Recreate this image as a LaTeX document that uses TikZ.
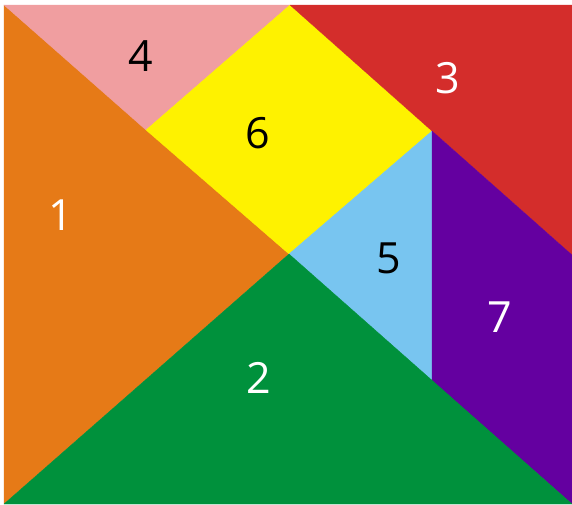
\documentclass[tikz,border=0pt]{standalone}
\usepackage{fontspec}
\setmainfont{Open Sans}
\definecolor{cOrange}{HTML}{E67A17}
\definecolor{cPink}{HTML}{F09EA0}
\definecolor{cYellow}{HTML}{FEF200}
\definecolor{cRed}{HTML}{D42D2B}
\definecolor{cBlue}{HTML}{78C5F0}
\definecolor{cPurple}{HTML}{6400A0}
\definecolor{cGreen}{HTML}{00913C}
\begin{document}
\begin{tikzpicture}[x=1pt,y=-1pt,
  lbl/.style={inner sep=0pt,font=\fontsize{43}{43}\selectfont},
  piece/.style={line width=0.3pt,line join=round}]
\useasboundingbox (0,0) rectangle (572,504);
\fill[white] (0,0) rectangle (572,504);
\coordinate (TL) at (4,5);
\coordinate (TM) at (290,5);
\coordinate (TR) at (572,5);
\coordinate (RM) at (572,255);
\coordinate (BR) at (572,504);
\coordinate (BL) at (4,504);
\coordinate (C) at (289,254);
\coordinate (P) at (146,130);
\coordinate (Q) at (432,131);
\coordinate (R) at (432,381);
\fill[cOrange,draw=cOrange,piece] (TL) -- (C) -- (BL) -- cycle;
\fill[cPink,draw=cPink,piece] (TL) -- (TM) -- (P) -- cycle;
\fill[cYellow,draw=cYellow,piece] (P) -- (TM) -- (Q) -- (C) -- cycle;
\fill[cRed,draw=cRed,piece] (TM) -- (TR) -- (RM) -- (Q) -- cycle;
\fill[cBlue,draw=cBlue,piece] (Q) -- (R) -- (C) -- cycle;
\fill[cPurple,draw=cPurple,piece] (Q) -- (RM) -- (BR) -- (R) -- cycle;
\fill[cGreen,draw=cGreen,piece] (BL) -- (C) -- (BR) -- cycle;
\node[lbl,text=black] (n4) at (141,56) {4};
\node[lbl,text=white] (n3) at (448,78) {3};
\node[lbl,text=black] (n6) at (258,133) {6};
\node[lbl,text=white] (n1) at (61,215) {1};
\node[lbl,text=black] (n5) at (389,258) {5};
\node[lbl,text=white] (n7) at (500,317) {7};
\node[lbl,text=white] (n2) at (259,378) {2};
\end{tikzpicture}
\end{document}
